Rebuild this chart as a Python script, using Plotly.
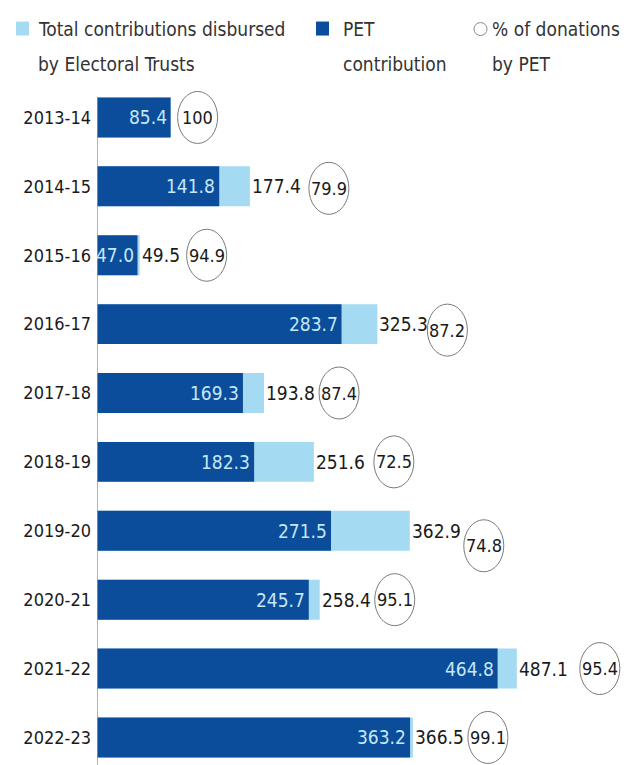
import plotly.graph_objects as go

years = ["2013-14", "2014-15", "2015-16", "2016-17", "2017-18",
         "2018-19", "2019-20", "2020-21", "2021-22", "2022-23"]
total = [85.4, 177.4, 49.5, 325.3, 193.8, 251.6, 362.9, 258.4, 487.1, 366.5]
pet = [85.4, 141.8, 47.0, 283.7, 169.3, 182.3, 271.5, 245.7, 464.8, 363.2]
pct = ["100", "79.9", "94.9", "87.2", "87.4", "72.5", "74.8", "95.1", "95.4", "99.1"]

# style: pixel offsets (right, down) of the % circles from the end of the total bar
circle_dx = [27, 79, 67, 70, 75, 80, 74, 75, 83, 75]
circle_dy = [0, 2, 0, 6, 0, 0, 15, 0, 0, 0]

LIGHT = "#a5dbf2"
DARK = "#0b4c9b"
FONT = "DejaVu Sans Condensed, Liberation Sans Narrow, Roboto, sans-serif"

# the page body adds an 8px margin, so the figure is 8px smaller than the window
W, H = 632, 757
ml, mt = 89, 74.5
pw, ph = W - ml, H - mt


def px_x(px):
    return (px - ml) / pw


def px_y(py):
    return (H - py) / ph


fig = go.Figure()
fig.add_trace(go.Bar(y=years, x=total, orientation="h", marker_color=LIGHT,
                     marker_line_width=0, hoverinfo="skip"))
fig.add_trace(go.Bar(y=years, x=pet, orientation="h", marker_color=DARK,
                     marker_line_width=0, hoverinfo="skip"))

annotations = []
shapes = []
for i, y in enumerate(years):
    annotations.append(dict(x=pet[i], y=y, text=f"{pet[i]:.1f}", showarrow=False,
                            xanchor="right", xshift=-3, borderpad=0,
                            font=dict(family=FONT, size=19, color="#c4e8f8")))
    if total[i] != pet[i]:
        annotations.append(dict(x=total[i], y=y, text=f"{total[i]:.1f}", showarrow=False,
                                xanchor="left", xshift=1, borderpad=0,
                                font=dict(family=FONT, size=19, color="#1a1a1a")))
    annotations.append(dict(x=total[i], y=y, text=pct[i], showarrow=False,
                            xanchor="center", xshift=circle_dx[i], yshift=-circle_dy[i],
                            borderpad=0,
                            font=dict(family=FONT, size=18, color="#1a1a1a")))
    shapes.append(dict(type="circle", xref="x", yref="y",
                       xsizemode="pixel", ysizemode="pixel",
                       xanchor=total[i], yanchor=i,
                       x0=circle_dx[i] - 20, x1=circle_dx[i] + 20,
                       y0=-circle_dy[i] - 26, y1=-circle_dy[i] + 26,
                       line=dict(color="#7a7a7a", width=1)))

# axis line
shapes.append(dict(type="line", xref="x", yref="y", x0=0, x1=0, y0=-0.3, y1=9.6,
                   line=dict(color="#9a9a9a", width=1.5)))

# legend
legend_font = dict(family=FONT, size=19, color="#333333")
for (x0, x1, y0, y1, c) in [(8, 21, 13, 27, LIGHT), (308, 321, 13, 27, DARK)]:
    shapes.append(dict(type="rect", xref="paper", yref="paper",
                       x0=px_x(x0), x1=px_x(x1), y0=px_y(y1), y1=px_y(y0),
                       fillcolor=c, line_width=0))
shapes.append(dict(type="circle", xref="paper", yref="paper",
                   x0=px_x(466), x1=px_x(479), y0=px_y(27), y1=px_y(14),
                   line=dict(color="#8a8a8a", width=1)))

for (x, line1, line2) in [(28, "Total contributions disbursed", "by Electoral Trusts"),
                          (333, "PET", "contribution"),
                          (482, "% of donations", "by PET")]:
    for (yy, txt) in [(20, line1), (55, line2)]:
        annotations.append(dict(x=px_x(x), y=px_y(yy), xref="paper", yref="paper",
                                xanchor="left", yanchor="middle", align="left",
                                text=txt, showarrow=False, font=legend_font))

fig.update_layout(
    width=W, height=H,
    margin=dict(l=ml, r=0, t=mt, b=0, pad=0, autoexpand=False),
    barmode="overlay", bargap=0.42,
    showlegend=False,
    plot_bgcolor="white", paper_bgcolor="white",
    xaxis=dict(range=[0, 630], visible=False, fixedrange=True),
    yaxis=dict(range=[9.4, -0.5], showgrid=False, zeroline=False, showline=False,
               ticks="", ticklabelstandoff=5, fixedrange=True,
               tickfont=dict(family=FONT, size=18, color="#1a1a1a")),
    annotations=annotations, shapes=shapes,
)

fig.write_html("out.html")
